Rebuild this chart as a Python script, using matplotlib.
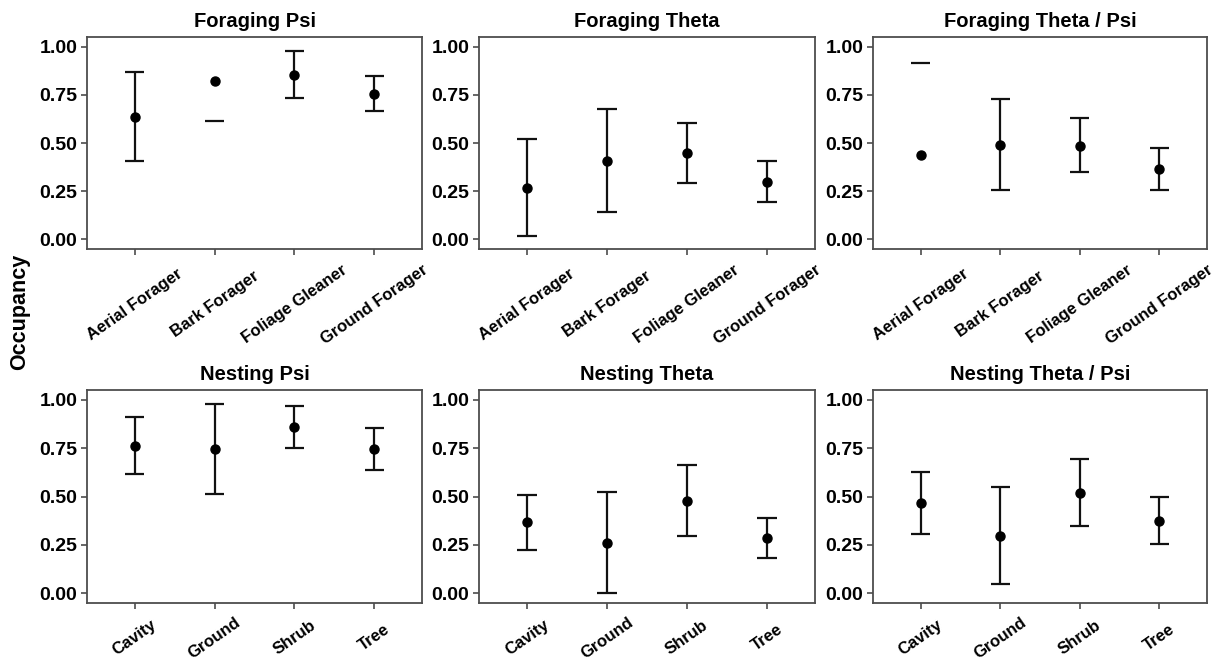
import numpy as np
import matplotlib.pyplot as plt
import matplotlib as mpl

settings = {"font.family": ['Liberation Sans', 'DejaVu Sans'],
            "font.weight": 'bold',
            "axes.titleweight": 'bold',
            }
mpl.rcParams.update(settings)

forage_groups = ['Aerial Forager', 'Bark Forager', 'Foliage Gleaner', 'Ground Forager']
nest_groups = ['Cavity', 'Ground', 'Shrub', 'Tree']

# estimate, lower, upper (nan = limit falls outside the plotted range)
forage_psi = [0.636, 0.820, 0.851, 0.756]
forage_psi_lo = [0.407, 0.613, 0.734, 0.668]
forage_psi_hi = [0.868, np.nan, 0.976, 0.849]

forage_theta = [0.266, 0.405, 0.447, 0.299]
forage_theta_lo = [0.019, 0.143, 0.294, 0.194]
forage_theta_hi = [0.519, 0.674, 0.605, 0.407]

forage_ratio = [0.438, 0.488, 0.486, 0.364]
forage_ratio_lo = [np.nan, 0.254, 0.349, 0.258]
forage_ratio_hi = [0.916, 0.729, 0.631, 0.474]

nest_psi = [0.762, 0.743, 0.861, 0.743]
nest_psi_lo = [0.614, 0.511, 0.753, 0.635]
nest_psi_hi = [0.911, 0.979, 0.969, 0.854]

nest_theta = [0.367, 0.259, 0.477, 0.285]
nest_theta_lo = [0.226, 0.0, 0.297, 0.182]
nest_theta_hi = [0.508, 0.523, 0.662, 0.389]

nest_ratio = [0.465, 0.295, 0.520, 0.374]
nest_ratio_lo = [0.307, 0.048, 0.348, 0.254]
nest_ratio_hi = [0.626, 0.547, 0.696, 0.499]

panels = [
    ('Foraging Psi', forage_groups, forage_psi, forage_psi_lo, forage_psi_hi),
    ('Foraging Theta', forage_groups, forage_theta, forage_theta_lo, forage_theta_hi),
    ('Foraging Theta / Psi', forage_groups, forage_ratio, forage_ratio_lo, forage_ratio_hi),
    ('Nesting Psi', nest_groups, nest_psi, nest_psi_lo, nest_psi_hi),
    ('Nesting Theta', nest_groups, nest_theta, nest_theta_lo, nest_theta_hi),
    ('Nesting Theta / Psi', nest_groups, nest_ratio, nest_ratio_lo, nest_ratio_hi),
]

W, H = 1224, 661
fig = plt.figure(figsize=(W / 100, H / 100), dpi=100)

# axes boxes in pixels (left, right), (top, bottom)
cols = [(87, 422), (479, 815), (873, 1207)]
rows = [(37, 249), (390, 603)]
label_pad = [36, 21]   # points, x labels centred below the axis

frame_col = '#4d4d4d'
cap = 0.12

for k, (title, groups, est, lo, hi) in enumerate(panels):
    l, r = cols[k % 3]
    t, b = rows[k // 3]
    ax = fig.add_axes([l / W, 1 - b / H, (r - l) / W, (b - t) / H])
    x = np.arange(1, len(groups) + 1)
    est = np.array(est)
    lo = np.array(lo)
    hi = np.array(hi)
    for i in range(len(x)):
        if np.isfinite(lo[i]) and np.isfinite(hi[i]):
            ax.vlines(x[i], lo[i], hi[i], color='#111111', lw=1.6, zorder=2)
        if np.isfinite(lo[i]):
            ax.hlines(lo[i], x[i] - cap, x[i] + cap, color='#111111', lw=1.6, zorder=2)
        if np.isfinite(hi[i]):
            ax.hlines(hi[i], x[i] - cap, x[i] + cap, color='#111111', lw=1.6, zorder=2)
    ax.plot(x, est, 'o', color='black', markersize=6.5, zorder=3)

    ax.set_xlim(0.4, len(groups) + 0.6)
    ax.set_ylim(-0.05, 1.05)
    ax.set_yticks([0, 0.25, 0.5, 0.75, 1.0])
    ax.set_yticklabels(['0.00', '0.25', '0.50', '0.75', '1.00'], fontsize=14, fontweight='bold')
    ax.set_xticks(x)
    ax.set_xticklabels(groups, rotation=35, ha='center', va='center', rotation_mode='anchor',
                       fontsize=12, fontweight='bold')
    ax.tick_params(axis='both', length=4, width=1.2, color=frame_col, pad=3)
    ax.tick_params(axis='x', pad=label_pad[k // 3])
    for sp in ax.spines.values():
        sp.set_color(frame_col)
        sp.set_linewidth(1.3)
    ax.set_title(title, fontsize=14.5, fontweight='bold', pad=7)

fig.text(20 / W, 1 - 312 / H, 'Occupancy', rotation=90, ha='center', va='center',
         fontsize=15.5, fontweight='bold')

plt.savefig('out.png', dpi=100)
